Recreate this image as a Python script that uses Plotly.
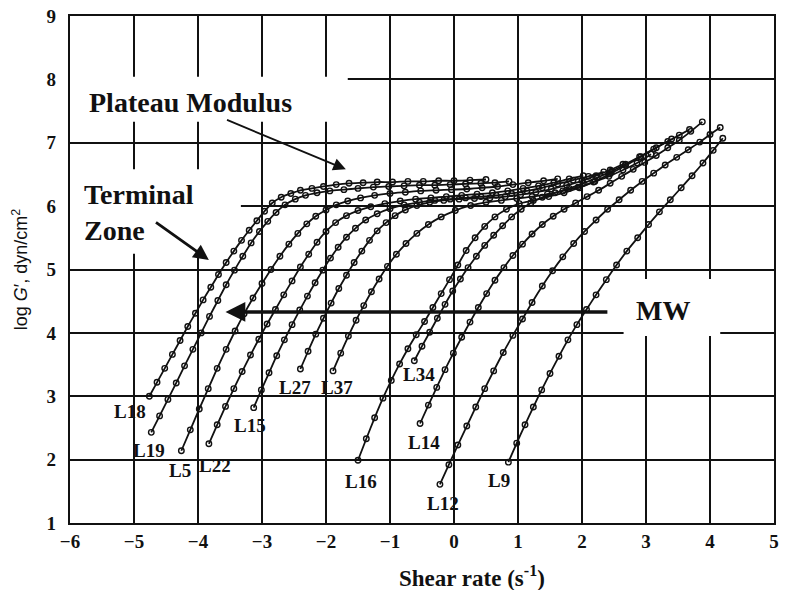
import plotly.graph_objects as go

# ---- storage-modulus curves: log shear rate vs log G' ----
l18_x = [-4.76, -4.64, -4.52, -4.40, -4.28, -4.16, -4.04, -3.92, -3.80, -3.68, -3.56, -3.44, -3.32, -3.20, -3.08, -2.96, -2.84,
         -2.70, -2.55, -2.40, -2.22, -2.04, -1.84, -1.64, -1.42, -1.20, -0.96, -0.72, -0.48, -0.24, 0.00, 0.25, 0.50]
l18_y = [3.00, 3.22, 3.44, 3.66, 3.88, 4.10, 4.31, 4.52, 4.72, 4.92, 5.11, 5.29, 5.46, 5.62, 5.77, 5.92, 6.05,
         6.14, 6.20, 6.25, 6.28, 6.31, 6.34, 6.36, 6.37, 6.38, 6.38, 6.39, 6.39, 6.40, 6.40, 6.41, 6.42]

l19_x = [-4.73, -4.60, -4.47, -4.34, -4.21, -4.08, -3.95, -3.82, -3.69, -3.56, -3.43, -3.30, -3.17, -3.04, -2.91, -2.78, -2.64,
         -2.48, -2.32, -2.14, -1.94, -1.72, -1.50, -1.26, -1.02, -0.78, -0.54, -0.30, -0.06, 0.18, 0.42, 0.64, 0.86]
l19_y = [2.43, 2.69, 2.95, 3.21, 3.48, 3.74, 4.00, 4.26, 4.51, 4.76, 4.99, 5.21, 5.42, 5.60, 5.76, 5.90, 6.02,
         6.11, 6.17, 6.21, 6.24, 6.26, 6.28, 6.30, 6.31, 6.32, 6.33, 6.33, 6.34, 6.35, 6.36, 6.37, 6.39]

l5_x = [-4.26, -4.12, -3.98, -3.84, -3.70, -3.56, -3.42, -3.28, -3.14, -3.00, -2.86, -2.72, -2.58, -2.44, -2.30, -2.16, -2.00,
        -1.84, -1.66, -1.46, -1.24, -1.00, -0.76, -0.52, -0.28, -0.04, 0.20, 0.44, 0.68, 0.92, 1.16, 1.40, 1.62]
l5_y = [2.14, 2.47, 2.80, 3.12, 3.44, 3.74, 4.03, 4.30, 4.55, 4.78, 5.00, 5.21, 5.40, 5.57, 5.72, 5.84, 5.94,
        6.02, 6.08, 6.13, 6.17, 6.20, 6.22, 6.24, 6.25, 6.26, 6.27, 6.29, 6.31, 6.34, 6.37, 6.40, 6.43]

l22_x = [-3.83, -3.70, -3.57, -3.44, -3.31, -3.18, -3.05, -2.92, -2.79, -2.66, -2.53, -2.40, -2.27, -2.14, -2.00, -1.85, -1.68,
         -1.50, -1.30, -1.08, -0.84, -0.60, -0.36, -0.12, 0.12, 0.36, 0.60, 0.84, 1.08, 1.32, 1.56, 1.80, 2.02]
l22_y = [2.25, 2.55, 2.84, 3.12, 3.39, 3.65, 3.90, 4.14, 4.37, 4.60, 4.82, 5.04, 5.24, 5.43, 5.60, 5.74, 5.85,
         5.93, 5.99, 6.04, 6.08, 6.11, 6.13, 6.15, 6.17, 6.19, 6.21, 6.24, 6.28, 6.32, 6.37, 6.43, 6.48]

l15_x = [-3.13, -3.01, -2.89, -2.77, -2.65, -2.53, -2.41, -2.29, -2.17, -2.05, -1.93, -1.81, -1.68, -1.54, -1.38, -1.20,
         -1.00, -0.78, -0.54, -0.30, -0.06, 0.18, 0.42, 0.66, 0.90, 1.14, 1.38, 1.62, 1.86, 2.10, 2.34]
l15_y = [2.82, 3.10, 3.37, 3.64, 3.89, 4.13, 4.36, 4.58, 4.79, 4.99, 5.18, 5.35, 5.51, 5.65, 5.78, 5.88,
         5.96, 6.02, 6.06, 6.09, 6.11, 6.13, 6.15, 6.17, 6.20, 6.24, 6.29, 6.35, 6.41, 6.47, 6.54]

l27_x = [-2.40, -2.28, -2.16, -2.04, -1.92, -1.80, -1.68, -1.56, -1.44, -1.32, -1.20, -1.06, -0.92, -0.76, -0.58,
         -0.38, -0.16, 0.08, 0.32, 0.56, 0.80, 1.04, 1.28, 1.52, 1.76, 2.00, 2.22, 2.44, 2.64]
l27_y = [3.43, 3.71, 3.98, 4.23, 4.47, 4.70, 4.91, 5.11, 5.29, 5.46, 5.61, 5.74, 5.85, 5.94, 6.01,
         6.06, 6.09, 6.11, 6.12, 6.13, 6.15, 6.18, 6.22, 6.27, 6.33, 6.40, 6.48, 6.57, 6.66]

l37_x = [-1.89, -1.77, -1.65, -1.53, -1.41, -1.29, -1.17, -1.04, -0.90, -0.75, -0.58, -0.40, -0.20, 0.02,
         0.26, 0.50, 0.74, 0.98, 1.22, 1.46, 1.70, 1.94, 2.18, 2.42, 2.64, 2.86, 3.08]
l37_y = [3.40, 3.68, 3.95, 4.20, 4.43, 4.65, 4.85, 5.05, 5.24, 5.41, 5.57, 5.71, 5.83, 5.93,
         6.01, 6.06, 6.09, 6.12, 6.15, 6.19, 6.24, 6.30, 6.38, 6.47, 6.57, 6.68, 6.82]

l16_x = [-1.50, -1.37, -1.24, -1.11, -0.98, -0.85, -0.72, -0.59, -0.46, -0.33, -0.20, -0.07, 0.06, 0.19, 0.33,
         0.48, 0.64, 0.82, 1.02, 1.24, 1.48, 1.72, 1.96, 2.20, 2.44, 2.68, 2.92, 3.16, 3.40]
l16_y = [1.99, 2.33, 2.66, 2.97, 3.25, 3.51, 3.75, 3.97, 4.18, 4.40, 4.62, 4.84, 5.07, 5.30, 5.50,
         5.68, 5.83, 5.95, 6.04, 6.09, 6.15, 6.21, 6.29, 6.39, 6.51, 6.64, 6.78, 6.92, 7.06]

l34_x = [-0.62, -0.50, -0.38, -0.26, -0.14, -0.02, 0.10, 0.22, 0.35, 0.48, 0.62, 0.76, 0.90, 1.05,
         1.20, 1.38, 1.58, 1.80, 2.02, 2.24, 2.46, 2.68, 2.90, 3.12, 3.34, 3.52, 3.68]
l34_y = [3.56, 3.79, 4.01, 4.23, 4.45, 4.66, 4.85, 5.03, 5.21, 5.38, 5.54, 5.69, 5.83, 5.95,
         6.05, 6.14, 6.21, 6.28, 6.36, 6.45, 6.55, 6.66, 6.78, 6.90, 7.02, 7.12, 7.21]

l14_x = [-0.53, -0.40, -0.27, -0.14, -0.01, 0.12, 0.25, 0.38, 0.51, 0.64, 0.78, 0.92, 1.07, 1.22, 1.38,
         1.55, 1.72, 1.90, 2.08, 2.26, 2.44, 2.62, 2.80, 2.98, 3.16, 3.34, 3.52, 3.70, 3.88]
l14_y = [2.57, 2.86, 3.14, 3.42, 3.68, 3.93, 4.17, 4.40, 4.62, 4.83, 5.03, 5.22, 5.40, 5.56, 5.71,
         5.84, 5.95, 6.05, 6.15, 6.25, 6.36, 6.47, 6.58, 6.69, 6.80, 6.92, 7.04, 7.18, 7.33]

l12_x = [-0.22, -0.08, 0.06, 0.20, 0.34, 0.48, 0.62, 0.77, 0.92, 1.07, 1.22, 1.38, 1.54, 1.70,
         1.87, 2.04, 2.22, 2.40, 2.58, 2.76, 2.94, 3.12, 3.30, 3.48, 3.66, 3.84, 4.00, 4.16]
l12_y = [1.61, 1.92, 2.23, 2.53, 2.83, 3.12, 3.40, 3.69, 3.96, 4.22, 4.48, 4.74, 4.98, 5.20,
         5.41, 5.60, 5.78, 5.95, 6.10, 6.25, 6.39, 6.52, 6.65, 6.77, 6.89, 7.01, 7.13, 7.24]

l9_x = [0.85, 0.98, 1.11, 1.24, 1.37, 1.50, 1.64, 1.78, 1.92, 2.07, 2.22, 2.38,
        2.54, 2.70, 2.87, 3.04, 3.21, 3.38, 3.55, 3.72, 3.89, 4.05, 4.20]
l9_y = [1.96, 2.26, 2.55, 2.83, 3.10, 3.36, 3.63, 3.89, 4.13, 4.37, 4.60, 4.84,
        5.07, 5.29, 5.50, 5.71, 5.91, 6.10, 6.29, 6.48, 6.68, 6.88, 7.07]

# sample names and where each name is written
sample_names = ["L18", "L19", "L5", "L22", "L15", "L27", "L37", "L16", "L34", "L14", "L12", "L9"]
label_x = [-5.07, -4.76, -4.28, -3.74, -3.18, -2.48, -1.83, -1.46, -0.54, -0.47, -0.17, 0.71]
label_y = [2.76, 2.15, 1.83, 1.91, 2.54, 3.14, 3.14, 1.66, 3.34, 2.27, 1.31, 1.67]

curves = [
    (l18_x, l18_y), (l19_x, l19_y), (l5_x, l5_y), (l22_x, l22_y),
    (l15_x, l15_y), (l27_x, l27_y), (l37_x, l37_y), (l16_x, l16_y),
    (l34_x, l34_y), (l14_x, l14_y), (l12_x, l12_y), (l9_x, l9_y),
]

SERIF = "Liberation Serif"
INK = "#111111"

fig = go.Figure()
for name, (xs, ys) in zip(sample_names, curves):
    fig.add_trace(go.Scatter(
        x=xs, y=ys, name=name, mode="lines+markers",
        line=dict(color=INK, width=1.8, shape="spline", smoothing=0.6),
        marker=dict(symbol="circle-open", size=5.5, color=INK, line=dict(width=1.4)),
        showlegend=False, hoverinfo="skip",
    ))

annotations = []
for name, lx, ly in zip(sample_names, label_x, label_y):
    annotations.append(dict(x=lx, y=ly, text=f"<b>{name}</b>", showarrow=False,
                            xanchor="center", yanchor="middle",
                            font=dict(family=SERIF, size=19, color=INK)))

annotations += [
    dict(x=-4.12, y=7.63, text="<b>Plateau Modulus</b>", showarrow=False,
         xanchor="center", yanchor="middle", font=dict(family=SERIF, size=28, color=INK)),
    dict(x=-5.82, y=5.90, text="<b>Terminal<br>Zone</b>", showarrow=False, align="left",
         xanchor="left", yanchor="middle", font=dict(family=SERIF, size=28, color=INK)),
    dict(x=3.26, y=4.36, text="<b>MW</b>", showarrow=False,
         xanchor="center", yanchor="middle", font=dict(family=SERIF, size=28, color=INK)),
    # x-axis caption, set a little right of the plot centre
    dict(x=(475 - 70) / 709, y=-(577 - 523) / 509, xref="paper", yref="paper",
         xanchor="center", yanchor="middle", text="<b>Shear rate (s<sup>-1</sup>)</b>",
         showarrow=False, font=dict(family=SERIF, size=23, color=INK)),
    # arrows
    dict(x=-1.69, y=6.58, ax=-3.57, ay=7.37, axref="x", ayref="y", xref="x", yref="y",
         text="", showarrow=True, arrowhead=2, arrowsize=1.4, arrowwidth=1.8, arrowcolor=INK),
    dict(x=-3.83, y=5.15, ax=-4.68, ay=5.76, axref="x", ayref="y", xref="x", yref="y",
         text="", showarrow=True, arrowhead=2, arrowsize=1.1, arrowwidth=2.8, arrowcolor=INK),
    dict(x=-3.57, y=4.33, ax=2.42, ay=4.33, axref="x", ayref="y", xref="x", yref="y",
         text="", showarrow=True, arrowhead=2, arrowsize=1.1, arrowwidth=3.6, arrowcolor=INK),
]

# white patches where the printed grid is interrupted by the captions
gaps = [
    dict(x0=-6.0, x1=-1.66, y0=7.33, y1=8.04),
    dict(x0=-6.0, x1=-3.33, y0=5.25, y1=6.58),
    dict(x0=2.65, x1=4.16, y0=3.95, y1=4.85),
]
shapes = [dict(type="rect", xref="x", yref="y", layer="between", line=dict(width=0),
               fillcolor="white", **g) for g in gaps]

fig.update_layout(
    width=785, height=590,
    margin=dict(l=70, r=6, t=14, b=67),
    paper_bgcolor="white", plot_bgcolor="white",
    annotations=annotations, shapes=shapes,
    xaxis=dict(range=[-6, 5], dtick=1, tick0=-6, showgrid=True, gridcolor=INK, gridwidth=1.8,
               zeroline=False, showline=True, linecolor=INK, linewidth=2.2, mirror=True,
               ticks="", tickfont=dict(family=SERIF, size=19, color=INK, weight="bold")),
    yaxis=dict(range=[1, 9], dtick=1, tick0=1, showgrid=True, gridcolor=INK, gridwidth=1.8,
               zeroline=False, showline=True, linecolor=INK, linewidth=2.2, mirror=True,
               ticks="", ticklabelstandoff=8,
               tickfont=dict(family=SERIF, size=19, color=INK, weight="bold"),
               title=dict(text="log <i>G</i>′, dyn/cm<sup>2</sup>", standoff=14,
                          font=dict(family="Liberation Sans", size=18, color=INK))),
)

fig.write_html("out.html")
